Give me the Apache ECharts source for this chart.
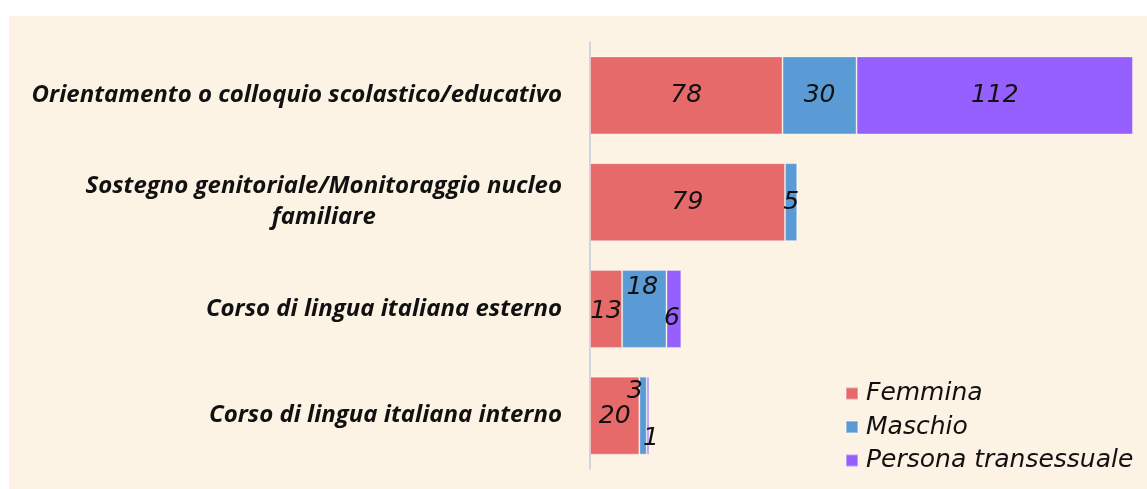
<!DOCTYPE html>
<html>
<head>
<meta charset="utf-8">
<script src="https://cdn.jsdelivr.net/npm/echarts@6/dist/echarts.min.js"></script>
<style>
  html, body { margin: 0; padding: 0; background: #ffffff; }
  #chart { position: absolute; left: 9px; top: 16px; width: 1138px; height: 473px; }
</style>
</head>
<body>
<div id="chart"></div>
<script>
// Categories, top to bottom as shown
const categories = [
  'Orientamento o colloquio scolastico/educativo',
  'Sostegno genitoriale/Monitoraggio nucleo familiare',
  'Corso di lingua italiana esterno',
  'Corso di lingua italiana interno'
];
const seriesNames = ['Femmina', 'Maschio', 'Persona transessuale'];
const femmina = [78, 79, 13, 20];
const maschio = [30, 5, 18, 3];
const trans = [112, 0, 6, 1];

// Label nudges for the narrow segments, per category [x, y]
const femminaOffsets = [[0, 0], [0, 0], [0, 3], [0, 1]];
const maschioOffsets = [[0, 0], [0, 0], [-2, -21], [-8, -24]];
const transOffsets = [[0, 0], [0, 0], [-2, 10], [3, 23]];

const colors = ['#e56a69', '#5b9bd5', '#9560fd'];

const labelStyle = {
  show: true,
  position: 'inside',
  color: '#111',
  fontFamily: 'DejaVu Sans',
  fontStyle: 'italic',
  fontSize: 25
};

function buildData(values, offsets) {
  return values.map((v, i) => ({
    value: v,
    label: { offset: offsets[i], show: v > 0 }
  }));
}

// Y axis is inverted so the first category sits at the top
const yCats = categories.slice().reverse();
const rev = arr => arr.slice().reverse();

const catFont = { fontFamily: 'Open Sans', fontWeight: 'bold', fontStyle: 'italic', fontSize: 24, color: '#111', lineHeight: 31 };

const chart = echarts.init(document.getElementById('chart'), null, { renderer: 'canvas' });

const option = {
  backgroundColor: '#fdf3e4',
  animation: false,
  grid: { left: 581, top: 26, width: 543, height: 427, containLabel: false },
  xAxis: {
    type: 'value',
    min: 0,
    max: 220,
    show: false
  },
  yAxis: {
    type: 'category',
    data: yCats,
    axisLine: { show: true, lineStyle: { color: '#cfd6e0', width: 2 } },
    axisTick: { show: false },
    axisLabel: Object.assign({
      margin: 28,
      formatter: function (v) {
        if (v.indexOf('Sostegno') === 0) {
          return '{a|Sostegno genitoriale/Monitoraggio nucleo}\n{c|familiare}';
        }
        return '{a|' + v + '}';
      },
      rich: {
        a: Object.assign({}, catFont),
        c: Object.assign({ align: 'center' }, catFont)
      }
    }, catFont)
  },
  legend: {
    orient: 'vertical',
    left: 836,
    top: 365,
    padding: 0,
    itemWidth: 12,
    itemHeight: 12,
    itemGap: 8.5,
    icon: 'rect',
    textStyle: { fontFamily: 'DejaVu Sans', fontStyle: 'italic', fontSize: 25, lineHeight: 24, color: '#111', padding: [0, 0, 0, 3] },
    data: seriesNames
  },
  series: [
    {
      name: seriesNames[0], type: 'bar', stack: 'total', barWidth: 78,
      itemStyle: { color: colors[0], borderColor: 'rgba(255,255,255,0.35)', borderWidth: 1 },
      label: labelStyle,
      data: rev(buildData(femmina, femminaOffsets))
    },
    {
      name: seriesNames[1], type: 'bar', stack: 'total', barWidth: 78,
      itemStyle: { color: colors[1], borderColor: 'rgba(255,255,255,0.35)', borderWidth: 1 },
      label: labelStyle,
      data: rev(buildData(maschio, maschioOffsets))
    },
    {
      name: seriesNames[2], type: 'bar', stack: 'total', barWidth: 78,
      itemStyle: { color: colors[2], borderColor: 'rgba(255,255,255,0.35)', borderWidth: 1 },
      label: labelStyle,
      data: rev(buildData(trans, transOffsets))
    }
  ]
};

chart.setOption(option);
</script>
</body>
</html>
